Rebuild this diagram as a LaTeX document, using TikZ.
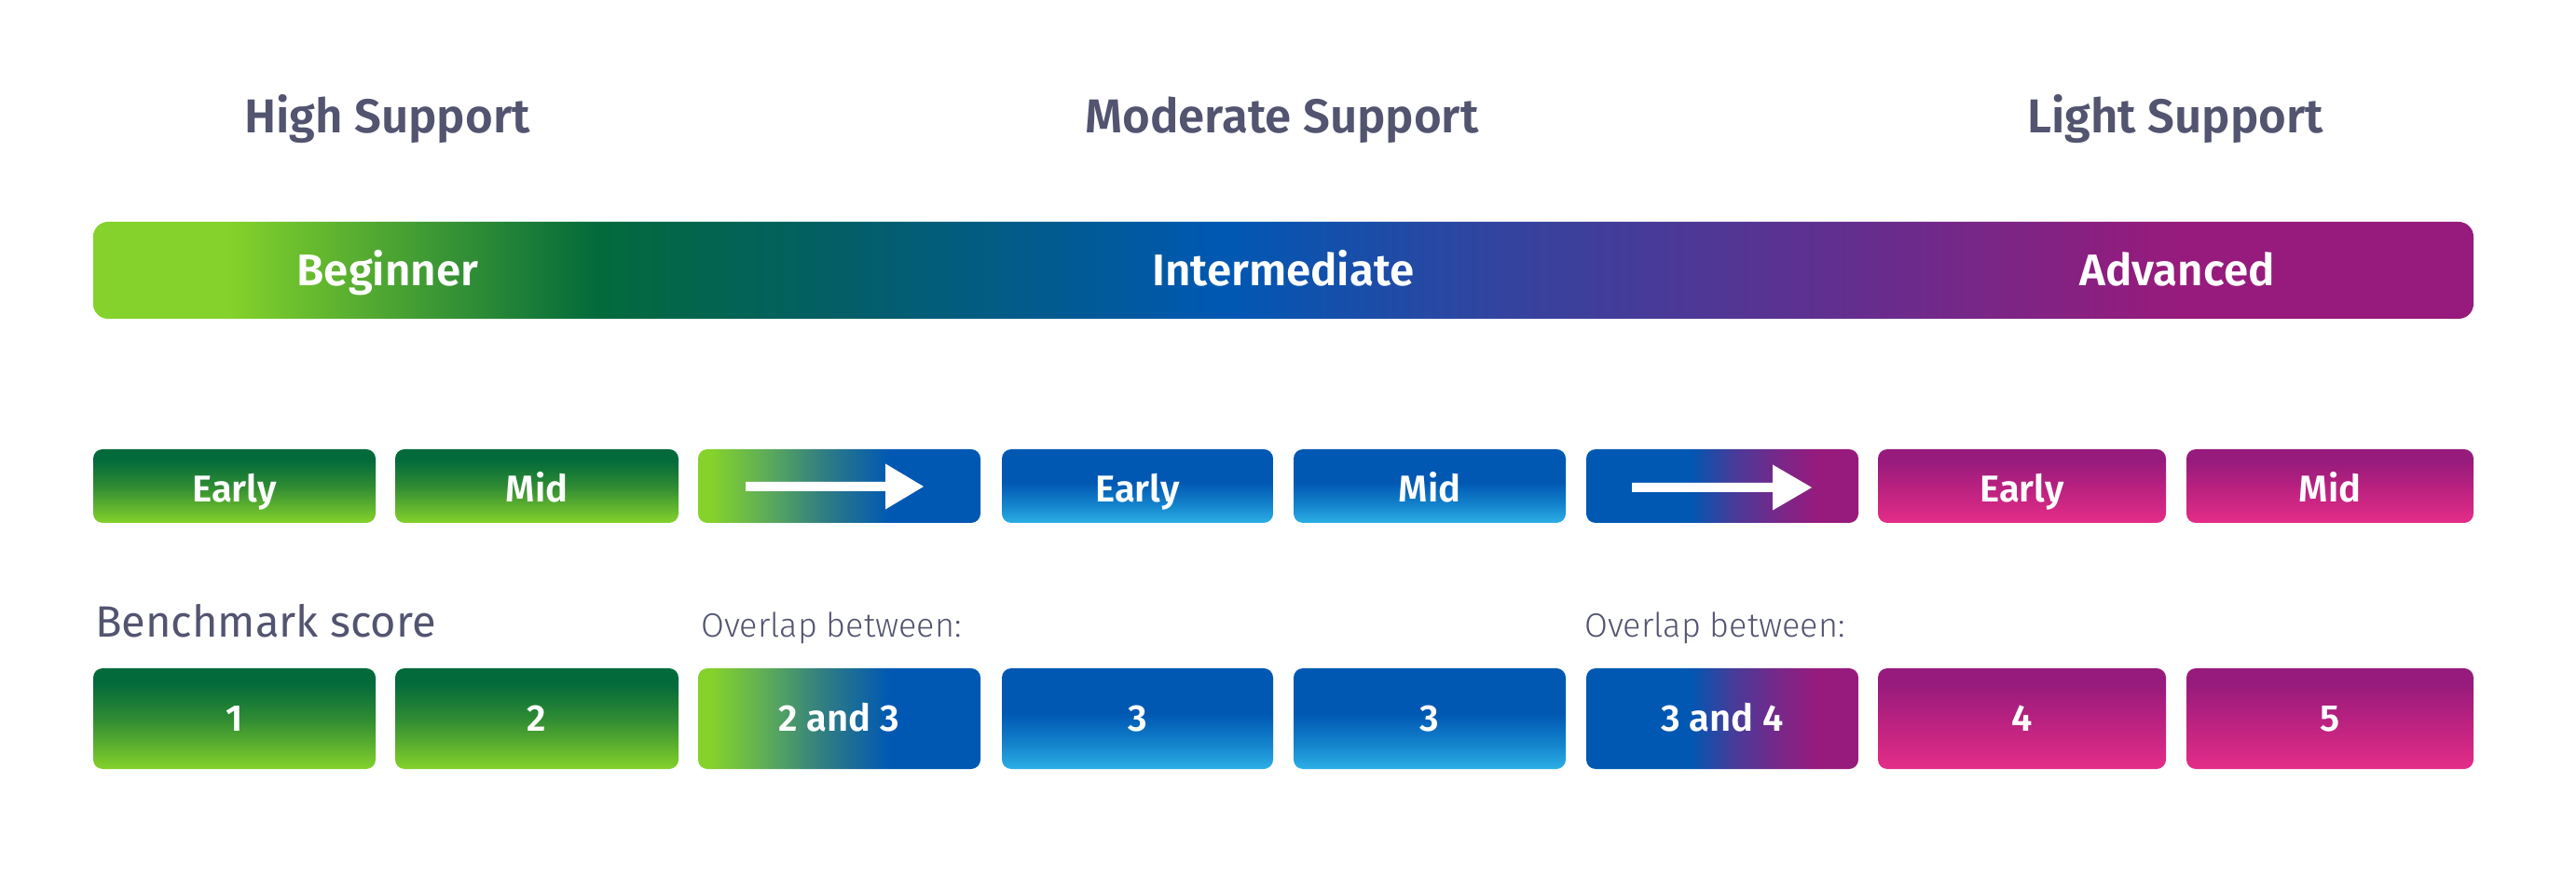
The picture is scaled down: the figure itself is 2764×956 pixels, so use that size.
\documentclass[tikz,border=0pt]{standalone}
\usepackage{fontspec}
\setmainfont{Fira Sans}[BoldFont={Fira Sans SemiBold}]
\newfontfamily\lightfont{Fira Sans Light}
\usetikzlibrary{calc}

\definecolor{headcol}{HTML}{525470}
\definecolor{lgreen}{HTML}{84D22B}
\definecolor{dgreen}{HTML}{036A3B}
\definecolor{mgreen}{HTML}{2F8B33}
\definecolor{tealc}{HTML}{035E68}
\definecolor{blue1}{HTML}{0058B3}
\definecolor{blue2}{HTML}{1483CC}
\definecolor{lblue}{HTML}{2CAFE6}
\definecolor{indigo}{HTML}{31449F}
\definecolor{violet}{HTML}{5E3090}
\definecolor{magenta1}{HTML}{961B7C}
\definecolor{magenta2}{HTML}{B8217F}
\definecolor{pink1}{HTML}{E42D88}
\definecolor{ovA}{HTML}{5BAA5A}
\definecolor{ovB}{HTML}{2F7C83}
\definecolor{ovC}{HTML}{4A3A98}
\definecolor{ovD}{HTML}{7B2688}

% shadings: path bounding box maps onto 25bp..75bp
\pgfdeclarehorizontalshading{barshade}{100bp}{color(0bp)=(lgreen); color(25bp)=(lgreen); color(27.84bp)=(lgreen); color(35.57bp)=(dgreen); color(40.9bp)=(tealc); color(48.83bp)=(blue1); color(54.35bp)=(indigo); color(61.2bp)=(violet); color(68.6bp)=(magenta1); color(75bp)=(magenta1); color(100bp)=(magenta1)}
\pgfdeclareverticalshading{greenshade}{100bp}{color(0bp)=(lgreen); color(25bp)=(lgreen); color(50bp)=(mgreen); color(67.5bp)=(dgreen); color(75bp)=(dgreen); color(100bp)=(dgreen)}
\pgfdeclareverticalshading{blueshade}{100bp}{color(0bp)=(lblue); color(25bp)=(lblue); color(37.5bp)=(blue2); color(52.5bp)=(blue1); color(75bp)=(blue1); color(100bp)=(blue1)}
\pgfdeclareverticalshading{magshade}{100bp}{color(0bp)=(pink1); color(25bp)=(pink1); color(50bp)=(magenta2); color(67.5bp)=(magenta1); color(75bp)=(magenta1); color(100bp)=(magenta1)}
\pgfdeclarehorizontalshading{ovoneshade}{100bp}{color(0bp)=(lgreen); color(25bp)=(lgreen); color(27.5bp)=(lgreen); color(37.5bp)=(ovA); color(47.5bp)=(ovB); color(59bp)=(blue1); color(75bp)=(blue1); color(100bp)=(blue1)}
\pgfdeclarehorizontalshading{ovtwoshade}{100bp}{color(0bp)=(blue1); color(25bp)=(blue1); color(44bp)=(blue1); color(52.5bp)=(ovC); color(61bp)=(ovD); color(67.5bp)=(magenta1); color(75bp)=(magenta1); color(100bp)=(magenta1)}

\tikzset{
  headlabel/.style={inner sep=0pt, anchor=base, text=headcol, font=\bfseries\fontsize{51}{60}\selectfont},
  barlabel/.style={inner sep=0pt, anchor=base, text=white, font=\bfseries\fontsize{47.5}{56}\selectfont},
  levelbar/.style={rectangle, rounded corners=16pt, inner sep=0pt, minimum width=2554pt, minimum height=104pt, shading=barshade},
  rowbox/.style={rectangle, rounded corners=10pt, inner sep=0pt, text=white, font=\bfseries\fontsize{40}{48}\selectfont},
  rowone/.style={rowbox, minimum height=79pt, text height=33.6pt, text depth=0pt},
  rowtwo/.style={rowbox, minimum height=108pt, text height=26.6pt, text depth=0pt},
  gbox/.style={shading=greenshade},
  bbox/.style={shading=blueshade},
  mbox/.style={shading=magshade},
  ovone/.style={shading=ovoneshade},
  ovtwo/.style={shading=ovtwoshade},
  sidelabel/.style={inner sep=0pt, anchor=base west, text=headcol, font=\fontsize{47}{56}\selectfont},
  overlaplabel/.style={inner sep=0pt, anchor=base west, text=headcol, font=\lightfont\fontsize{36}{44}\selectfont},
  arrowfill/.style={fill=white}
}

\begin{document}
\begin{tikzpicture}[x=1pt,y=1pt]
\useasboundingbox (0,0) rectangle (2764,956);
\fill[white] (0,0) rectangle (2764,956);

% support levels
\node[headlabel] (hs) at (415.5,813.7) {High Support};
\node[headlabel] (ms) at (1375.5,813.7) {Moderate Support};
\node[headlabel] (ls) at (2334,813.7) {Light Support};

% level bar
\node[levelbar] (bar) at (1377,666) {};
\node[barlabel] (beg) at (416,649.3) {Beginner};
\node[barlabel] (int) at (1377,649.3) {Intermediate};
\node[barlabel] (adv) at (2336,649.3) {Advanced};

% row one
\node[rowone, gbox, minimum width=303pt] (e1) at (251.5,434.5) {Early};
\node[rowone, gbox, minimum width=304pt] (m1) at (576,434.5) {Mid};
\node[rowone, ovone, minimum width=303pt] (a1) at (900.5,434.5) {};
\node[rowone, bbox, minimum width=291pt] (e2) at (1220.5,434.5) {Early};
\node[rowone, bbox, minimum width=292pt] (m2) at (1534,434.5) {Mid};
\node[rowone, ovtwo, minimum width=292pt] (a2) at (1848,434.5) {};
\node[rowone, mbox, minimum width=309pt] (e3) at (2169.5,434.5) {Early};
\node[rowone, mbox, minimum width=308pt] (m3) at (2500,434.5) {Mid};

% arrows inside transition boxes
\begin{scope}[shift={(a1.center)}]
  \fill[arrowfill] (-100.5,4.5) -- (49.5,4.5) -- (49.5,24) -- (90.5,-0.5) -- (49.5,-25) -- (49.5,-5.5) -- (-100.5,-5.5) -- cycle;
\end{scope}
\begin{scope}[shift={(a2.center)}]
  \fill[arrowfill] (-97,3.5) -- (54,3.5) -- (54,23) -- (96,-1.5) -- (54,-26) -- (54,-6.5) -- (-97,-6.5) -- cycle;
\end{scope}

% labels above row two
\node[sidelabel] (bs) at (102,272) {Benchmark score};
\node[overlaplabel] (ov1) at (752,272.7) {Overlap between:};
\node[overlaplabel] (ov2) at (1700,272.7) {Overlap between:};

% row two
\node[rowtwo, gbox, minimum width=303pt] (s1) at (251.5,185) {1};
\node[rowtwo, gbox, minimum width=304pt] (s2) at (576,185) {2};
\node[rowtwo, ovone, minimum width=303pt] (s23) at (900.5,185) {2 and 3};
\node[rowtwo, bbox, minimum width=291pt] (s3a) at (1220.5,185) {3};
\node[rowtwo, bbox, minimum width=292pt] (s3b) at (1534,185) {3};
\node[rowtwo, ovtwo, minimum width=292pt] (s34) at (1848,185) {3 and 4};
\node[rowtwo, mbox, minimum width=309pt] (s4) at (2169.5,185) {4};
\node[rowtwo, mbox, minimum width=308pt] (s5) at (2500,185) {5};
\end{tikzpicture}
\end{document}
